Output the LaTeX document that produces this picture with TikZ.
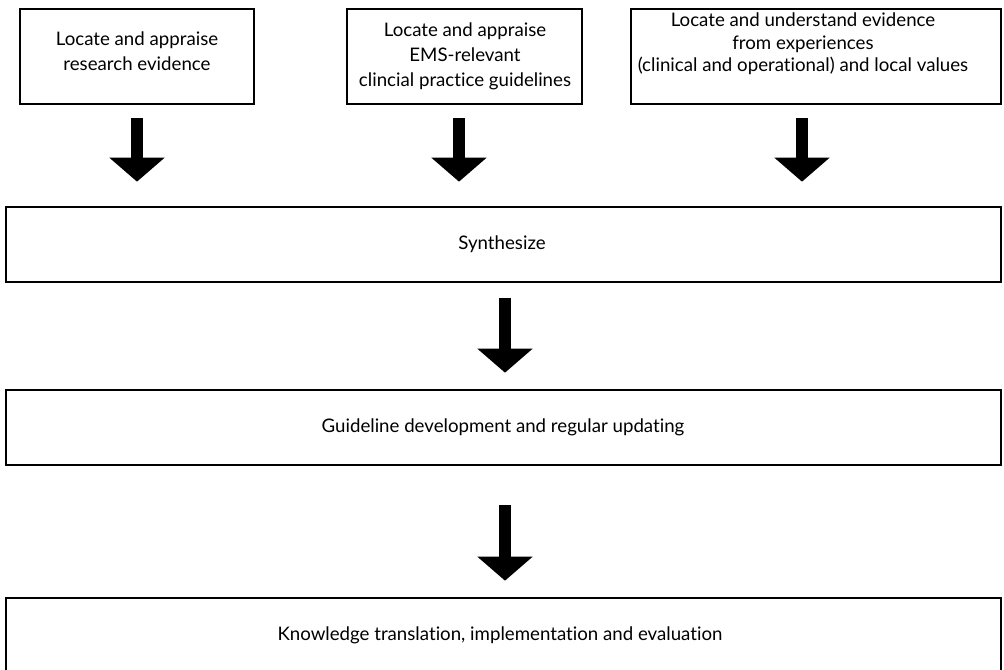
\documentclass[tikz,border=0pt]{standalone}
\usepackage{fontspec}
\setmainfont{Lato}[RawFeature={-liga}]
\usetikzlibrary{arrows.meta}
\begin{document}
\begin{tikzpicture}[x=0.75pt,y=-0.75pt,
  box/.style={draw=black, line width=2pt, inner sep=0pt},
  lbl/.style={align=center, font=\fontsize{14}{18.75}\selectfont, inner sep=0pt},
  lbltight/.style={align=center, font=\fontsize{14}{16.9}\selectfont, inner sep=0pt},
  wide/.style={box, minimum width=746.25pt, minimum height=56.25pt},
  bigarrow/.style={line width=9pt, -{Triangle[width=40.5pt,length=18pt]}}]
\useasboundingbox (0,0) rectangle (1004,669);
\node[box, minimum width=175.5pt, minimum height=71.25pt] (b1) at (137,56.5) {};
\node[lbl] (t1) at (137,51) {Locate and appraise\\research evidence};
\node[box, minimum width=176.25pt, minimum height=71.25pt] (b2) at (464.5,56.5) {};
\node[lbl] (t2) at (465,56.5) {Locate and appraise\\EMS-relevant\\clincial practice guidelines};
\node[box, minimum width=277.5pt, minimum height=71.25pt] (b3) at (816,56.5) {};
\node[lbltight] (t3) at (803,44) {Locate and understand evidence\\from experiences\\(clinical and operational) and local values};
\node[wide] (syn) at (503.5,244.5) {};
\node[lbl] (ts) at (502,244.5) {Synthesize};
\node[wide] (gui) at (503.5,427.5) {};
\node[lbl] (tg) at (503,427) {Guideline development and regular updating};
\node[wide] (kno) at (503.5,635.5) {};
\node[lbl] (tk) at (500,635) {Knowledge translation, implementation and evaluation};
\draw[bigarrow, shorten <=9.75pt, shorten >=18pt] (t1 |- b1.south) -- (t1 |- syn.north);
\draw[bigarrow, shorten <=9.75pt, shorten >=18pt] (459,0 |- b2.south) -- (459,0 |- syn.north);
\draw[bigarrow, shorten <=9.75pt, shorten >=18pt] (802,0 |- b3.south) -- (802,0 |- syn.north);
\draw[bigarrow, shorten <=11.25pt, shorten >=12pt] (505,0 |- syn.south) -- (505,0 |- gui.north);
\draw[bigarrow, shorten <=29.25pt, shorten >=12pt] (505,0 |- gui.south) -- (505,0 |- kno.north);
\end{tikzpicture}
\end{document}
